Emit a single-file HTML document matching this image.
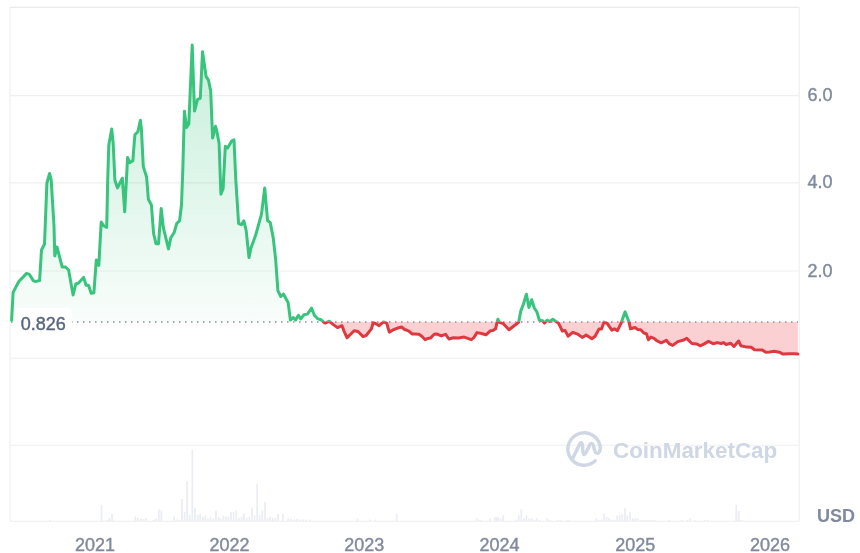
<!DOCTYPE html>
<html><head><meta charset="utf-8">
<style>
html,body{margin:0;padding:0;background:#fff;width:860px;height:553px;overflow:hidden}
svg{display:block;will-change:transform}
text{font-family:"Liberation Sans",sans-serif}
</style></head><body>
<svg width="860" height="553" viewBox="0 0 860 553">
<defs>
<linearGradient id="gg" gradientUnits="userSpaceOnUse" x1="0" y1="45" x2="0" y2="322">
<stop offset="0" stop-color="#2ec27a" stop-opacity="0.27"/>
<stop offset="1" stop-color="#2ec27a" stop-opacity="0.03"/>
</linearGradient>
<linearGradient id="rg" gradientUnits="userSpaceOnUse" x1="0" y1="322" x2="0" y2="356">
<stop offset="0" stop-color="#ea3943" stop-opacity="0.24"/>
<stop offset="1" stop-color="#ea3943" stop-opacity="0.24"/>
</linearGradient>
<clipPath id="ca"><rect x="0" y="0" width="860" height="322.0"/></clipPath>
<clipPath id="cb"><rect x="0" y="322.0" width="860" height="300"/></clipPath>
</defs>
<g stroke="#eeeeee" stroke-width="1.1">
<line x1="10.1" y1="7.2" x2="799.2" y2="7.2" stroke="#e4e4e4"/>
<line x1="10.1" y1="7.2" x2="10.1" y2="521.3"/>
<line x1="799.2" y1="7.2" x2="799.2" y2="521.3"/>
<line x1="10.1" y1="521.3" x2="799.2" y2="521.3"/>
</g>
<g stroke="#efefef" stroke-width="1.1"><line x1="10" y1="95.65" x2="799" y2="95.65"/><line x1="10" y1="182.9" x2="799" y2="182.9"/><line x1="10" y1="271.0" x2="799" y2="271.0"/><line x1="10" y1="358.3" x2="799" y2="358.3"/><line x1="10" y1="445.3" x2="799" y2="445.3"/></g>
<g fill="#eaedf3"><rect x="49" y="519.8" width="1.7" height="1.2"/><rect x="100.7" y="504.8" width="1.7" height="16.2"/><rect x="106.1" y="520" width="1.7" height="1"/><rect x="108.5" y="518" width="1.7" height="3"/><rect x="111.2" y="513.8" width="1.7" height="7.2"/><rect x="134.6" y="516.5" width="1.7" height="4.5"/><rect x="137.2" y="518" width="1.7" height="3"/><rect x="140.1" y="518.5" width="1.7" height="2.5"/><rect x="142.6" y="519" width="1.7" height="2"/><rect x="145" y="518.1" width="1.7" height="2.9"/><rect x="152.8" y="519.9" width="1.7" height="1.1"/><rect x="155.2" y="518.5" width="1.7" height="2.5"/><rect x="158" y="509.4" width="1.7" height="11.6"/><rect x="160.5" y="510.6" width="1.7" height="10.4"/><rect x="173.3" y="516.7" width="1.7" height="4.3"/><rect x="175.8" y="519.4" width="1.7" height="1.6"/><rect x="178.3" y="519.9" width="1.7" height="1.1"/><rect x="181.1" y="499" width="1.7" height="22"/><rect x="183.7" y="512" width="1.7" height="9"/><rect x="186.2" y="481" width="1.7" height="40"/><rect x="188.8" y="515" width="1.7" height="6"/><rect x="191.5" y="449.6" width="1.7" height="71.4"/><rect x="194.1" y="507.7" width="1.7" height="13.3"/><rect x="196.8" y="515" width="1.7" height="6"/><rect x="199.3" y="513.8" width="1.7" height="7.2"/><rect x="202" y="516.7" width="1.7" height="4.3"/><rect x="204.6" y="515.4" width="1.7" height="5.6"/><rect x="207.2" y="518.5" width="1.7" height="2.5"/><rect x="209.8" y="516.7" width="1.7" height="4.3"/><rect x="212.5" y="518.5" width="1.7" height="2.5"/><rect x="215.1" y="510.6" width="1.7" height="10.4"/><rect x="217.7" y="516.7" width="1.7" height="4.3"/><rect x="219.8" y="518.5" width="1.7" height="2.5"/><rect x="222.6" y="515.4" width="1.7" height="5.6"/><rect x="225" y="516.7" width="1.7" height="4.3"/><rect x="227.6" y="516.4" width="1.7" height="4.6"/><rect x="230.2" y="512" width="1.7" height="9"/><rect x="232.8" y="512" width="1.7" height="9"/><rect x="235.5" y="510.6" width="1.7" height="10.4"/><rect x="238.1" y="518.1" width="1.7" height="2.9"/><rect x="240.7" y="516.7" width="1.7" height="4.3"/><rect x="243.2" y="513.8" width="1.7" height="7.2"/><rect x="245.8" y="518.1" width="1.7" height="2.9"/><rect x="248.6" y="516.7" width="1.7" height="4.3"/><rect x="251.2" y="507.7" width="1.7" height="13.3"/><rect x="253.8" y="515.4" width="1.7" height="5.6"/><rect x="256.3" y="484" width="1.7" height="37"/><rect x="258.9" y="515" width="1.7" height="6"/><rect x="261.5" y="510.6" width="1.7" height="10.4"/><rect x="264.2" y="501.9" width="1.7" height="19.1"/><rect x="266.8" y="518.1" width="1.7" height="2.9"/><rect x="269.4" y="516.7" width="1.7" height="4.3"/><rect x="272" y="518.1" width="1.7" height="2.9"/><rect x="274.6" y="518.1" width="1.7" height="2.9"/><rect x="277.2" y="513.8" width="1.7" height="7.2"/><rect x="282.1" y="513.8" width="1.7" height="7.2"/><rect x="287.4" y="518.1" width="1.7" height="2.9"/><rect x="290.1" y="519" width="1.7" height="2"/><rect x="293.1" y="519.5" width="1.7" height="1.5"/><rect x="296.1" y="519" width="1.7" height="2"/><rect x="299.1" y="519.5" width="1.7" height="1.5"/><rect x="302.1" y="519.3" width="1.7" height="1.7"/><rect x="305.1" y="519.5" width="1.7" height="1.5"/><rect x="309.1" y="519.8" width="1.7" height="1.2"/><rect x="356.6" y="518.4" width="1.7" height="2.6"/><rect x="369.1" y="519.5" width="1.7" height="1.5"/><rect x="374.1" y="519.6" width="1.7" height="1.4"/><rect x="395.9" y="513.8" width="1.7" height="7.2"/><rect x="476.3" y="518.3" width="1.7" height="2.7"/><rect x="479.1" y="519.8" width="1.7" height="1.2"/><rect x="489.3" y="518.5" width="1.7" height="2.5"/><rect x="494" y="516.9" width="1.7" height="4.1"/><rect x="495.8" y="516.9" width="1.7" height="4.1"/><rect x="497.2" y="517.1" width="1.7" height="3.9"/><rect x="499.8" y="518.3" width="1.7" height="2.7"/><rect x="502.4" y="515.3" width="1.7" height="5.7"/><rect x="515.1" y="519.8" width="1.7" height="1.2"/><rect x="517.9" y="515.3" width="1.7" height="5.7"/><rect x="520.4" y="509.3" width="1.7" height="11.7"/><rect x="523.1" y="518.3" width="1.7" height="2.7"/><rect x="525.6" y="515.3" width="1.7" height="5.7"/><rect x="528.4" y="518.3" width="1.7" height="2.7"/><rect x="531" y="518.3" width="1.7" height="2.7"/><rect x="533.4" y="519.8" width="1.7" height="1.2"/><rect x="535.9" y="518.3" width="1.7" height="2.7"/><rect x="538.9" y="519.8" width="1.7" height="1.2"/><rect x="546.4" y="518.3" width="1.7" height="2.7"/><rect x="549.2" y="519.8" width="1.7" height="1.2"/><rect x="556.9" y="519.8" width="1.7" height="1.2"/><rect x="559.6" y="519.8" width="1.7" height="1.2"/><rect x="567.2" y="519.8" width="1.7" height="1.2"/><rect x="595.5" y="518.3" width="1.7" height="2.7"/><rect x="597.8" y="519.8" width="1.7" height="1.2"/><rect x="600.6" y="520.2" width="1.7" height="0.8"/><rect x="603.2" y="513.5" width="1.7" height="7.5"/><rect x="605.8" y="516.9" width="1.7" height="4.1"/><rect x="608.2" y="518.3" width="1.7" height="2.7"/><rect x="610.9" y="519.8" width="1.7" height="1.2"/><rect x="613.8" y="519.8" width="1.7" height="1.2"/><rect x="616.4" y="515.4" width="1.7" height="5.6"/><rect x="618.9" y="515.4" width="1.7" height="5.6"/><rect x="621.4" y="514" width="1.7" height="7"/><rect x="624.1" y="508.2" width="1.7" height="12.8"/><rect x="626.5" y="515.4" width="1.7" height="5.6"/><rect x="629.2" y="512.1" width="1.7" height="8.9"/><rect x="631.9" y="518.3" width="1.7" height="2.7"/><rect x="634.4" y="518.3" width="1.7" height="2.7"/><rect x="636.9" y="518.3" width="1.7" height="2.7"/><rect x="639.9" y="520.2" width="1.7" height="0.8"/><rect x="642.6" y="520.2" width="1.7" height="0.8"/><rect x="645.6" y="520.2" width="1.7" height="0.8"/><rect x="648.6" y="520.2" width="1.7" height="0.8"/><rect x="651.6" y="520.2" width="1.7" height="0.8"/><rect x="654.6" y="520.2" width="1.7" height="0.8"/><rect x="668.2" y="519.8" width="1.7" height="1.2"/><rect x="680.9" y="520" width="1.7" height="1"/><rect x="686.2" y="520" width="1.7" height="1"/><rect x="688.9" y="518.3" width="1.7" height="2.7"/><rect x="693.9" y="520" width="1.7" height="1"/><rect x="704" y="520" width="1.7" height="1"/><rect x="707.1" y="520" width="1.7" height="1"/><rect x="735.4" y="505" width="1.7" height="16"/><rect x="737.9" y="511" width="1.7" height="10"/><rect x="740.6" y="520" width="1.7" height="1"/></g>
<path d="M11.6,320.2 L13.1,292.4 L18.8,281.5 L26.6,273.4 L29.3,274.3 L33.3,280.6 L35.1,281.5 L39.6,280.6 L41.5,250 L44.5,244 L46.9,183 L49.6,173.5 L51.2,180 L54,226 L54.8,256 L57,247 L62.2,267 L65.5,267 L68.6,270 L73.1,295 L75.8,284 L78.5,283 L83.6,277.4 L86.1,285.2 L88.5,285.2 L91.2,293.3 L93.9,292.7 L96.3,260 L98.8,265.5 L101.2,222 L104,226 L106.7,227.3 L107.7,180 L108.8,144.9 L111.7,128.9 L113.2,143.4 L114.9,180.3 L117.5,187.9 L122.3,178.2 L124.7,211.8 L127.6,157.4 L129.7,162.8 L132.8,160.8 L134.9,134.7 L137.8,131.8 L140.4,120.3 L141.4,128.9 L143.3,166.6 L146.6,177 L148.4,199.4 L151.4,205 L153.6,233.5 L156,243.7 L158.5,243.7 L161.2,208.4 L163.4,227.9 L168.5,248.9 L170.7,238 L174.3,232.2 L176.7,223.5 L179.6,220.7 L181.5,204.7 L182.8,170 L184.4,111.3 L186.5,127.5 L188.8,124 L192.2,45 L194.5,111 L197.6,99.3 L200.3,98.3 L202.5,51.7 L206.1,76.6 L208.5,80.2 L210.7,91 L212.6,138.1 L215.5,126.3 L216.8,130.9 L219.1,143.5 L220.9,194.2 L223.1,188.8 L225.3,146.2 L227.6,148.1 L231.8,140.8 L234,139.9 L235.8,179.7 L238.6,223.5 L241.5,224.7 L243.8,220.7 L246.2,230.6 L249,257.6 L250.9,248.2 L255.6,235.3 L261.5,214.1 L264.7,187.9 L267.6,220.7 L270.2,222.4 L273.2,237.6 L275.6,258.8 L277.9,290.6 L280.8,296.5 L283.4,294.1 L288.1,302.4 L290.4,320 L293.2,317.6 L295.6,320 L298.4,315.3 L300.8,318.8 L303.8,314.8 L307.4,314.1 L311.6,308.2 L314.4,315.3 L317.7,318.7 L321.5,320 L324.1,322.5 L325.3,323.1 L329.2,321.2 L333,324.4 L337.5,327.6 L342,325.7 L343.9,330.8 L347.1,337.8 L354.1,330.8 L358,331.5 L363.1,336.6 L366.3,335.3 L371.4,328.9 L373.3,322.5 L375.9,323.8 L379.1,325.7 L383.5,321.9 L386.7,323.1 L389.3,332.1 L392.5,330.2 L397,328.3 L401.5,327 L404.7,329.5 L408.5,330.8 L412.3,334 L414.9,334 L419,334.3 L422,336.5 L425.2,339.7 L427.8,338.4 L430.3,338.1 L434.2,334.3 L436.7,333.9 L441.2,335.8 L445.7,334.3 L448.9,339 L453.4,337.7 L458.5,338.1 L464.2,337.1 L471.3,339.7 L473.8,337.7 L477,332.6 L481.5,333.5 L486,334.8 L490.5,330.7 L493,330.4 L495.6,328.8 L496.9,323 L497.9,319.2 L499.4,322.4 L503.3,323.7 L509,329.7 L513.5,326.2 L518.6,322.4 L520.9,310.6 L523.4,304.2 L526.4,294.2 L528.9,307.4 L531.7,299.7 L534.3,308 L536.9,311.9 L539.4,320.2 L542.6,320.8 L544.5,323.1 L547.1,320.2 L549.7,321.5 L552.8,319.3 L556,321.5 L558.6,323.4 L562.4,331 L565,330.4 L568.2,336.2 L572.7,332.3 L577.8,334.2 L582.3,337.4 L586.1,334.9 L591.9,338.7 L595.1,336.2 L598.9,329.1 L601.5,329.1 L604,322.1 L607.2,323.4 L611.8,330.2 L614.5,328.8 L617.4,330.7 L620.9,323.7 L625.1,311.8 L628.9,321.7 L630.5,328.8 L635,327.5 L637.5,329.4 L640.7,329.7 L643.9,333 L646.5,333.9 L648.4,339.7 L650.9,337.1 L654.1,338.4 L656.7,340.7 L661.2,342.8 L666.3,340.3 L669.5,343.9 L672.7,345.4 L677.8,341.6 L682.9,340.3 L686.7,338.4 L691.9,343.5 L697,344.1 L700.2,345.8 L704.2,343.9 L708.4,341.4 L713.2,343.7 L717.3,342.6 L721.1,343.5 L723.7,342.6 L726.2,344.5 L730.7,343.3 L733.9,346.5 L738.6,341 L740.9,345.8 L746.7,347.1 L751.2,347.3 L754.4,349.7 L762,349.9 L765.9,352.2 L769.7,352 L774.2,351.2 L779.3,352.2 L783.1,354.1 L789.5,353.7 L794.7,353.7 L797.9,354.1 L797.9,322 L11.6,322 Z" fill="url(#gg)" clip-path="url(#ca)"/>
<path d="M11.6,320.2 L13.1,292.4 L18.8,281.5 L26.6,273.4 L29.3,274.3 L33.3,280.6 L35.1,281.5 L39.6,280.6 L41.5,250 L44.5,244 L46.9,183 L49.6,173.5 L51.2,180 L54,226 L54.8,256 L57,247 L62.2,267 L65.5,267 L68.6,270 L73.1,295 L75.8,284 L78.5,283 L83.6,277.4 L86.1,285.2 L88.5,285.2 L91.2,293.3 L93.9,292.7 L96.3,260 L98.8,265.5 L101.2,222 L104,226 L106.7,227.3 L107.7,180 L108.8,144.9 L111.7,128.9 L113.2,143.4 L114.9,180.3 L117.5,187.9 L122.3,178.2 L124.7,211.8 L127.6,157.4 L129.7,162.8 L132.8,160.8 L134.9,134.7 L137.8,131.8 L140.4,120.3 L141.4,128.9 L143.3,166.6 L146.6,177 L148.4,199.4 L151.4,205 L153.6,233.5 L156,243.7 L158.5,243.7 L161.2,208.4 L163.4,227.9 L168.5,248.9 L170.7,238 L174.3,232.2 L176.7,223.5 L179.6,220.7 L181.5,204.7 L182.8,170 L184.4,111.3 L186.5,127.5 L188.8,124 L192.2,45 L194.5,111 L197.6,99.3 L200.3,98.3 L202.5,51.7 L206.1,76.6 L208.5,80.2 L210.7,91 L212.6,138.1 L215.5,126.3 L216.8,130.9 L219.1,143.5 L220.9,194.2 L223.1,188.8 L225.3,146.2 L227.6,148.1 L231.8,140.8 L234,139.9 L235.8,179.7 L238.6,223.5 L241.5,224.7 L243.8,220.7 L246.2,230.6 L249,257.6 L250.9,248.2 L255.6,235.3 L261.5,214.1 L264.7,187.9 L267.6,220.7 L270.2,222.4 L273.2,237.6 L275.6,258.8 L277.9,290.6 L280.8,296.5 L283.4,294.1 L288.1,302.4 L290.4,320 L293.2,317.6 L295.6,320 L298.4,315.3 L300.8,318.8 L303.8,314.8 L307.4,314.1 L311.6,308.2 L314.4,315.3 L317.7,318.7 L321.5,320 L324.1,322.5 L325.3,323.1 L329.2,321.2 L333,324.4 L337.5,327.6 L342,325.7 L343.9,330.8 L347.1,337.8 L354.1,330.8 L358,331.5 L363.1,336.6 L366.3,335.3 L371.4,328.9 L373.3,322.5 L375.9,323.8 L379.1,325.7 L383.5,321.9 L386.7,323.1 L389.3,332.1 L392.5,330.2 L397,328.3 L401.5,327 L404.7,329.5 L408.5,330.8 L412.3,334 L414.9,334 L419,334.3 L422,336.5 L425.2,339.7 L427.8,338.4 L430.3,338.1 L434.2,334.3 L436.7,333.9 L441.2,335.8 L445.7,334.3 L448.9,339 L453.4,337.7 L458.5,338.1 L464.2,337.1 L471.3,339.7 L473.8,337.7 L477,332.6 L481.5,333.5 L486,334.8 L490.5,330.7 L493,330.4 L495.6,328.8 L496.9,323 L497.9,319.2 L499.4,322.4 L503.3,323.7 L509,329.7 L513.5,326.2 L518.6,322.4 L520.9,310.6 L523.4,304.2 L526.4,294.2 L528.9,307.4 L531.7,299.7 L534.3,308 L536.9,311.9 L539.4,320.2 L542.6,320.8 L544.5,323.1 L547.1,320.2 L549.7,321.5 L552.8,319.3 L556,321.5 L558.6,323.4 L562.4,331 L565,330.4 L568.2,336.2 L572.7,332.3 L577.8,334.2 L582.3,337.4 L586.1,334.9 L591.9,338.7 L595.1,336.2 L598.9,329.1 L601.5,329.1 L604,322.1 L607.2,323.4 L611.8,330.2 L614.5,328.8 L617.4,330.7 L620.9,323.7 L625.1,311.8 L628.9,321.7 L630.5,328.8 L635,327.5 L637.5,329.4 L640.7,329.7 L643.9,333 L646.5,333.9 L648.4,339.7 L650.9,337.1 L654.1,338.4 L656.7,340.7 L661.2,342.8 L666.3,340.3 L669.5,343.9 L672.7,345.4 L677.8,341.6 L682.9,340.3 L686.7,338.4 L691.9,343.5 L697,344.1 L700.2,345.8 L704.2,343.9 L708.4,341.4 L713.2,343.7 L717.3,342.6 L721.1,343.5 L723.7,342.6 L726.2,344.5 L730.7,343.3 L733.9,346.5 L738.6,341 L740.9,345.8 L746.7,347.1 L751.2,347.3 L754.4,349.7 L762,349.9 L765.9,352.2 L769.7,352 L774.2,351.2 L779.3,352.2 L783.1,354.1 L789.5,353.7 L794.7,353.7 L797.9,354.1 L797.9,322 L11.6,322 Z" fill="url(#rg)" clip-path="url(#cb)"/>
<line x1="11" y1="322.0" x2="798" y2="322.0" stroke="#8a8f99" stroke-width="1.3" stroke-dasharray="1.5 4.5"/>
<path d="M11.6,320.2 L13.1,292.4 L18.8,281.5 L26.6,273.4 L29.3,274.3 L33.3,280.6 L35.1,281.5 L39.6,280.6 L41.5,250 L44.5,244 L46.9,183 L49.6,173.5 L51.2,180 L54,226 L54.8,256 L57,247 L62.2,267 L65.5,267 L68.6,270 L73.1,295 L75.8,284 L78.5,283 L83.6,277.4 L86.1,285.2 L88.5,285.2 L91.2,293.3 L93.9,292.7 L96.3,260 L98.8,265.5 L101.2,222 L104,226 L106.7,227.3 L107.7,180 L108.8,144.9 L111.7,128.9 L113.2,143.4 L114.9,180.3 L117.5,187.9 L122.3,178.2 L124.7,211.8 L127.6,157.4 L129.7,162.8 L132.8,160.8 L134.9,134.7 L137.8,131.8 L140.4,120.3 L141.4,128.9 L143.3,166.6 L146.6,177 L148.4,199.4 L151.4,205 L153.6,233.5 L156,243.7 L158.5,243.7 L161.2,208.4 L163.4,227.9 L168.5,248.9 L170.7,238 L174.3,232.2 L176.7,223.5 L179.6,220.7 L181.5,204.7 L182.8,170 L184.4,111.3 L186.5,127.5 L188.8,124 L192.2,45 L194.5,111 L197.6,99.3 L200.3,98.3 L202.5,51.7 L206.1,76.6 L208.5,80.2 L210.7,91 L212.6,138.1 L215.5,126.3 L216.8,130.9 L219.1,143.5 L220.9,194.2 L223.1,188.8 L225.3,146.2 L227.6,148.1 L231.8,140.8 L234,139.9 L235.8,179.7 L238.6,223.5 L241.5,224.7 L243.8,220.7 L246.2,230.6 L249,257.6 L250.9,248.2 L255.6,235.3 L261.5,214.1 L264.7,187.9 L267.6,220.7 L270.2,222.4 L273.2,237.6 L275.6,258.8 L277.9,290.6 L280.8,296.5 L283.4,294.1 L288.1,302.4 L290.4,320 L293.2,317.6 L295.6,320 L298.4,315.3 L300.8,318.8 L303.8,314.8 L307.4,314.1 L311.6,308.2 L314.4,315.3 L317.7,318.7 L321.5,320 L324.1,322.5 L325.3,323.1 L329.2,321.2 L333,324.4 L337.5,327.6 L342,325.7 L343.9,330.8 L347.1,337.8 L354.1,330.8 L358,331.5 L363.1,336.6 L366.3,335.3 L371.4,328.9 L373.3,322.5 L375.9,323.8 L379.1,325.7 L383.5,321.9 L386.7,323.1 L389.3,332.1 L392.5,330.2 L397,328.3 L401.5,327 L404.7,329.5 L408.5,330.8 L412.3,334 L414.9,334 L419,334.3 L422,336.5 L425.2,339.7 L427.8,338.4 L430.3,338.1 L434.2,334.3 L436.7,333.9 L441.2,335.8 L445.7,334.3 L448.9,339 L453.4,337.7 L458.5,338.1 L464.2,337.1 L471.3,339.7 L473.8,337.7 L477,332.6 L481.5,333.5 L486,334.8 L490.5,330.7 L493,330.4 L495.6,328.8 L496.9,323 L497.9,319.2 L499.4,322.4 L503.3,323.7 L509,329.7 L513.5,326.2 L518.6,322.4 L520.9,310.6 L523.4,304.2 L526.4,294.2 L528.9,307.4 L531.7,299.7 L534.3,308 L536.9,311.9 L539.4,320.2 L542.6,320.8 L544.5,323.1 L547.1,320.2 L549.7,321.5 L552.8,319.3 L556,321.5 L558.6,323.4 L562.4,331 L565,330.4 L568.2,336.2 L572.7,332.3 L577.8,334.2 L582.3,337.4 L586.1,334.9 L591.9,338.7 L595.1,336.2 L598.9,329.1 L601.5,329.1 L604,322.1 L607.2,323.4 L611.8,330.2 L614.5,328.8 L617.4,330.7 L620.9,323.7 L625.1,311.8 L628.9,321.7 L630.5,328.8 L635,327.5 L637.5,329.4 L640.7,329.7 L643.9,333 L646.5,333.9 L648.4,339.7 L650.9,337.1 L654.1,338.4 L656.7,340.7 L661.2,342.8 L666.3,340.3 L669.5,343.9 L672.7,345.4 L677.8,341.6 L682.9,340.3 L686.7,338.4 L691.9,343.5 L697,344.1 L700.2,345.8 L704.2,343.9 L708.4,341.4 L713.2,343.7 L717.3,342.6 L721.1,343.5 L723.7,342.6 L726.2,344.5 L730.7,343.3 L733.9,346.5 L738.6,341 L740.9,345.8 L746.7,347.1 L751.2,347.3 L754.4,349.7 L762,349.9 L765.9,352.2 L769.7,352 L774.2,351.2 L779.3,352.2 L783.1,354.1 L789.5,353.7 L794.7,353.7 L797.9,354.1" fill="none" stroke="#38c47c" stroke-width="3" stroke-linejoin="round" stroke-linecap="round" clip-path="url(#ca)"/>
<path d="M11.6,320.2 L13.1,292.4 L18.8,281.5 L26.6,273.4 L29.3,274.3 L33.3,280.6 L35.1,281.5 L39.6,280.6 L41.5,250 L44.5,244 L46.9,183 L49.6,173.5 L51.2,180 L54,226 L54.8,256 L57,247 L62.2,267 L65.5,267 L68.6,270 L73.1,295 L75.8,284 L78.5,283 L83.6,277.4 L86.1,285.2 L88.5,285.2 L91.2,293.3 L93.9,292.7 L96.3,260 L98.8,265.5 L101.2,222 L104,226 L106.7,227.3 L107.7,180 L108.8,144.9 L111.7,128.9 L113.2,143.4 L114.9,180.3 L117.5,187.9 L122.3,178.2 L124.7,211.8 L127.6,157.4 L129.7,162.8 L132.8,160.8 L134.9,134.7 L137.8,131.8 L140.4,120.3 L141.4,128.9 L143.3,166.6 L146.6,177 L148.4,199.4 L151.4,205 L153.6,233.5 L156,243.7 L158.5,243.7 L161.2,208.4 L163.4,227.9 L168.5,248.9 L170.7,238 L174.3,232.2 L176.7,223.5 L179.6,220.7 L181.5,204.7 L182.8,170 L184.4,111.3 L186.5,127.5 L188.8,124 L192.2,45 L194.5,111 L197.6,99.3 L200.3,98.3 L202.5,51.7 L206.1,76.6 L208.5,80.2 L210.7,91 L212.6,138.1 L215.5,126.3 L216.8,130.9 L219.1,143.5 L220.9,194.2 L223.1,188.8 L225.3,146.2 L227.6,148.1 L231.8,140.8 L234,139.9 L235.8,179.7 L238.6,223.5 L241.5,224.7 L243.8,220.7 L246.2,230.6 L249,257.6 L250.9,248.2 L255.6,235.3 L261.5,214.1 L264.7,187.9 L267.6,220.7 L270.2,222.4 L273.2,237.6 L275.6,258.8 L277.9,290.6 L280.8,296.5 L283.4,294.1 L288.1,302.4 L290.4,320 L293.2,317.6 L295.6,320 L298.4,315.3 L300.8,318.8 L303.8,314.8 L307.4,314.1 L311.6,308.2 L314.4,315.3 L317.7,318.7 L321.5,320 L324.1,322.5 L325.3,323.1 L329.2,321.2 L333,324.4 L337.5,327.6 L342,325.7 L343.9,330.8 L347.1,337.8 L354.1,330.8 L358,331.5 L363.1,336.6 L366.3,335.3 L371.4,328.9 L373.3,322.5 L375.9,323.8 L379.1,325.7 L383.5,321.9 L386.7,323.1 L389.3,332.1 L392.5,330.2 L397,328.3 L401.5,327 L404.7,329.5 L408.5,330.8 L412.3,334 L414.9,334 L419,334.3 L422,336.5 L425.2,339.7 L427.8,338.4 L430.3,338.1 L434.2,334.3 L436.7,333.9 L441.2,335.8 L445.7,334.3 L448.9,339 L453.4,337.7 L458.5,338.1 L464.2,337.1 L471.3,339.7 L473.8,337.7 L477,332.6 L481.5,333.5 L486,334.8 L490.5,330.7 L493,330.4 L495.6,328.8 L496.9,323 L497.9,319.2 L499.4,322.4 L503.3,323.7 L509,329.7 L513.5,326.2 L518.6,322.4 L520.9,310.6 L523.4,304.2 L526.4,294.2 L528.9,307.4 L531.7,299.7 L534.3,308 L536.9,311.9 L539.4,320.2 L542.6,320.8 L544.5,323.1 L547.1,320.2 L549.7,321.5 L552.8,319.3 L556,321.5 L558.6,323.4 L562.4,331 L565,330.4 L568.2,336.2 L572.7,332.3 L577.8,334.2 L582.3,337.4 L586.1,334.9 L591.9,338.7 L595.1,336.2 L598.9,329.1 L601.5,329.1 L604,322.1 L607.2,323.4 L611.8,330.2 L614.5,328.8 L617.4,330.7 L620.9,323.7 L625.1,311.8 L628.9,321.7 L630.5,328.8 L635,327.5 L637.5,329.4 L640.7,329.7 L643.9,333 L646.5,333.9 L648.4,339.7 L650.9,337.1 L654.1,338.4 L656.7,340.7 L661.2,342.8 L666.3,340.3 L669.5,343.9 L672.7,345.4 L677.8,341.6 L682.9,340.3 L686.7,338.4 L691.9,343.5 L697,344.1 L700.2,345.8 L704.2,343.9 L708.4,341.4 L713.2,343.7 L717.3,342.6 L721.1,343.5 L723.7,342.6 L726.2,344.5 L730.7,343.3 L733.9,346.5 L738.6,341 L740.9,345.8 L746.7,347.1 L751.2,347.3 L754.4,349.7 L762,349.9 L765.9,352.2 L769.7,352 L774.2,351.2 L779.3,352.2 L783.1,354.1 L789.5,353.7 L794.7,353.7 L797.9,354.1" fill="none" stroke="#df393f" stroke-width="3" stroke-linejoin="round" stroke-linecap="round" clip-path="url(#cb)"/>
<rect x="14.3" y="307.9" width="57.7" height="28" rx="5" fill="#fff" fill-opacity="0.92"/>
<text x="20.7" y="330.1" font-size="18" fill="#58667e" stroke="#58667e" stroke-width="0.4">0.826</text>
<g font-size="18" fill="#808a9d" stroke="#808a9d" stroke-width="0.4">
<text x="807.6" y="101.2">6.0</text>
<text x="807.6" y="187.9">4.0</text>
<text x="807.6" y="276.5">2.0</text>
<text x="94.9" y="551" text-anchor="middle">2021</text>
<text x="229.5" y="551" text-anchor="middle">2022</text>
<text x="364.3" y="551" text-anchor="middle">2023</text>
<text x="499.5" y="551" text-anchor="middle">2024</text>
<text x="635.2" y="551" text-anchor="middle">2025</text>
<text x="770" y="551" text-anchor="middle">2026</text>
</g>
<text x="817" y="522" font-size="18" font-weight="bold" fill="#808a9d">USD</text>
<g fill="none" stroke="#cfd6e4" stroke-width="3.4" stroke-linecap="round" stroke-linejoin="round">
<path d="M572.8,458.2 L579.6,444.2 Q581.3,440.8 582.4,444.5 L583,452.5 Q583.8,456.6 586.2,452.5 L589.6,445 Q591.9,441.6 593.4,445.5 L594.6,450.5 Q596,454.6 598.6,452.8 Q600.2,451.5 600.3,449 A16.2,16.2 0 1 0 595.2,460.8"/>
</g>
<text x="613" y="457.6" font-size="22.4" font-weight="bold" fill="#cfd6e4">CoinMarketCap</text>
</svg>
</body></html>
